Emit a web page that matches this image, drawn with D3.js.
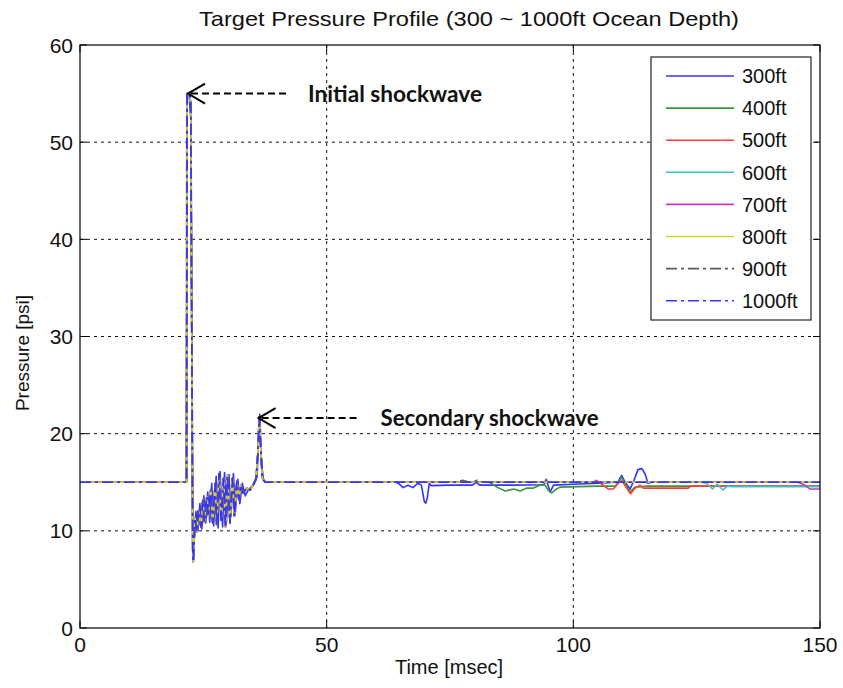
<!DOCTYPE html>
<html><head><meta charset="utf-8">
<script src="https://cdn.jsdelivr.net/npm/d3@7"></script>
<style>body{margin:0;background:#fff}svg{display:block}</style>
</head><body>
<svg id="chart" width="843" height="688"></svg>
<script>
// ---- data ----
const seriesNames = ["300ft","400ft","500ft","600ft","700ft","800ft","900ft","1000ft"];
const xTicks = [0, 50, 100, 150];
const yTicks = [0, 10, 20, 30, 40, 50, 60];

// common shock profile (depths nearly identical up to ~37 ms)
const tEarly = [0, 21.6, 21.7, 22.2, 22.45, 22.85, 22.97, 23.3, 23.7, 24.0, 24.5, 24.9, 25.2, 25.7, 26.0, 26.5, 26.9, 27.4, 27.7, 28.2, 28.6, 29.1, 29.5, 29.9, 30.4, 30.9, 31.3, 31.8, 32.2, 32.6, 33.1, 33.8, 34.5, 35.1, 35.7, 36.1, 36.3, 36.6, 36.95, 37.5];
const pEarly = [15, 15, 55, 55, 54.0, 8.0, 6.8, 11.3, 9.9, 12.1, 10.4, 13.2, 10.9, 13.5, 11.5, 14.2, 10.8, 14.9, 10.6, 15.9, 11.1, 15.4, 10.4, 15.7, 10.8, 15.4, 11.5, 15.1, 13.2, 14.7, 13.9, 14.4, 14.2, 14.7, 15.4, 18.3, 21.7, 19.0, 15.4, 15.05];
// slightly phase-shifted variant seen for the shallowest depth
const tEarlyB = [0, 21.55, 21.65, 22.1, 22.5, 22.9, 23.1, 23.5, 23.9, 24.3, 24.7, 25.1, 25.5, 25.9, 26.3, 26.7, 27.1, 27.6, 28.0, 28.4, 28.9, 29.3, 29.7, 30.2, 30.6, 31.1, 31.5, 32.0, 32.4, 32.9, 33.5, 34.2, 34.9, 35.5, 35.9, 36.2, 36.45, 36.8, 37.2, 37.5];
const pEarlyB = [15, 15, 55, 55, 52, 7.2, 8.5, 12.0, 10.0, 12.8, 10.2, 13.6, 10.8, 14.0, 10.9, 14.9, 10.5, 15.6, 10.3, 16.1, 10.4, 16.0, 11.0, 15.8, 11.5, 15.9, 12.0, 15.3, 12.8, 14.9, 13.6, 14.3, 14.6, 15.0, 15.6, 19.5, 22.0, 17.0, 15.2, 15.0];

// late-time behaviour per depth
const t300 = [37.6, 64.0, 64.5, 65.5, 66.5, 67.5, 68.5, 69.2, 69.8, 70.1, 70.4, 70.8, 71.2, 75, 79.5, 80.3, 81, 88, 94.0, 94.5, 95.3, 96.0, 100, 105, 109.0, 109.8, 110.5, 111.5, 112.3, 113.1, 113.9, 114.6, 115.1, 116, 150];
const p300 = [15, 15, 14.9, 14.45, 14.7, 14.45, 14.9, 14.7, 13.0, 12.85, 13.4, 14.9, 14.65, 14.7, 14.7, 15.0, 14.7, 14.7, 14.75, 15.3, 14.0, 14.7, 14.8, 14.9, 15.0, 15.7, 15.0, 14.3, 15.2, 16.3, 16.4, 15.8, 14.9, 15.0, 15.0];
const t400 = [37.6, 83.0, 84.5, 86.2, 87.9, 89.2, 90.6, 91.9, 93.2, 94.2, 94.9, 95.6, 96.3, 97.3, 105, 108.5, 109.8, 110.6, 111.5, 112.5, 115, 150];
const p400 = [15, 15, 14.5, 14.1, 14.3, 14.1, 14.4, 14.4, 14.7, 14.75, 14.2, 13.9, 14.2, 14.5, 14.6, 14.6, 15.5, 14.8, 14.0, 14.5, 14.6, 14.6];
const t500 = [37.6, 104.0, 104.7, 106.0, 107.1, 108.1, 109.1, 109.8, 110.8, 111.6, 112.5, 113.5, 114.2, 114.9, 123.3, 123.8, 150];
const p500 = [15, 15, 15.2, 14.7, 14.3, 14.3, 14.9, 15.2, 14.4, 13.8, 14.4, 14.7, 14.4, 14.4, 14.4, 14.6, 14.6];
const t600 = [37.6, 126.0, 127.0, 128.2, 129.2, 130.3, 131.2, 132.0, 150];
const p600 = [15, 15, 14.9, 14.3, 14.8, 14.2, 14.6, 14.55, 14.55];
const t700 = [37.6, 145.5, 146.6, 148.0, 150];
const p700 = [15, 15, 14.8, 14.3, 14.3];
const t800 = [37.6, 150];
const p800 = [15, 15];
const t900 = [37.6, 76, 77.5, 79, 80.5, 82, 150];
const p900 = [15, 15, 15.2, 15.0, 15.2, 15, 15];
const t1000 = [37.6, 150];
const p1000 = [15, 15];

const earlyT = [tEarlyB, tEarly, tEarly, tEarly, tEarly, tEarly, tEarly, tEarly];
const earlyP = [pEarlyB, pEarly, pEarly, pEarly, pEarly, pEarly, pEarly, pEarly];
const lateT = [t300, t400, t500, t600, t700, t800, t900, t1000];
const lateP = [p300, p400, p500, p600, p700, p800, p900, p1000];

// ---- styles ----
const colors = ["#3434ff", "#3a963a", "#ff3c3c", "#3cc4c4", "#c43cc4", "#d2d22c", "#5a5a5a", "#3434ff"];
const dashes = [null, null, null, null, null, null, "11,4,3,4", "11,4,3,4"];

const svg = d3.select("#chart");
const L = 80, R = 820, T = 45, B = 628;
const x = d3.scaleLinear().domain([0, 150]).range([L, R]);
const y = d3.scaleLinear().domain([0, 60]).range([B, T]);

const font = "'Liberation Sans', Arial, sans-serif";

// grid
const grid = svg.append("g");
grid.selectAll(".gx").data([50, 100]).enter().append("line")
  .attr("x1", d => x(d)).attr("x2", d => x(d)).attr("y1", T).attr("y2", B)
  .attr("stroke", "#111").attr("stroke-width", 1).attr("stroke-dasharray", "3,4");
grid.selectAll(".gy").data([10, 20, 30, 40, 50]).enter().append("line")
  .attr("y1", d => y(d)).attr("y2", d => y(d)).attr("x1", L).attr("x2", R)
  .attr("stroke", "#111").attr("stroke-width", 1).attr("stroke-dasharray", "3,4");

// clip
svg.append("clipPath").attr("id", "clip").append("rect")
  .attr("x", L).attr("y", T).attr("width", R - L).attr("height", B - T);

const line = d3.line().x(d => x(d[0])).y(d => y(d[1]));
const plot = svg.append("g").attr("clip-path", "url(#clip)");
seriesNames.forEach((name, i) => {
  const pts = earlyT[i].map((t, k) => [t, earlyP[i][k]])
    .concat(lateT[i].map((t, k) => [t, lateP[i][k]]));
  plot.append("path").datum(pts)
    .attr("d", line).attr("fill", "none")
    .attr("stroke", colors[i]).attr("stroke-width", 1.6)
    .attr("stroke-linejoin", "round")
    .attr("stroke-dasharray", dashes[i]);
});

// axes (box with inward ticks)
const axG = svg.append("g").attr("font-family", font);
axG.append("rect").attr("x", L).attr("y", T).attr("width", R - L).attr("height", B - T)
  .attr("fill", "none").attr("stroke", "#000").attr("stroke-width", 1.2);
const tl = 7;
xTicks.forEach(v => {
  axG.append("line").attr("x1", x(v)).attr("x2", x(v)).attr("y1", B).attr("y2", B - tl).attr("stroke", "#000");
  axG.append("line").attr("x1", x(v)).attr("x2", x(v)).attr("y1", T).attr("y2", T + tl).attr("stroke", "#000");
  axG.append("text").attr("x", x(v)).attr("y", B + 24).attr("text-anchor", "middle")
    .attr("font-size", 21).attr("fill", "#111").text(v);
});
yTicks.forEach(v => {
  axG.append("line").attr("y1", y(v)).attr("y2", y(v)).attr("x1", L).attr("x2", L + tl).attr("stroke", "#000");
  axG.append("line").attr("y1", y(v)).attr("y2", y(v)).attr("x1", R).attr("x2", R - tl).attr("stroke", "#000");
  axG.append("text").attr("x", L - 7).attr("y", y(v)).attr("dy", "0.36em").attr("text-anchor", "end")
    .attr("font-size", 21).attr("fill", "#111").text(v);
});

// titles
svg.append("text").attr("x", 469).attr("y", 26).attr("text-anchor", "middle")
  .attr("font-family", font).attr("font-size", 21).attr("fill", "#111")
  .attr("textLength", 540).attr("lengthAdjust", "spacingAndGlyphs")
  .text("Target Pressure Profile (300 ~ 1000ft Ocean Depth)");
svg.append("text").attr("x", 449).attr("y", 674).attr("text-anchor", "middle")
  .attr("font-family", font).attr("font-size", 20).attr("fill", "#111")
  .text("Time [msec]");
svg.append("text").attr("transform", `translate(29,353) rotate(-90)`)
  .attr("text-anchor", "middle")
  .attr("font-family", font).attr("font-size", 19).attr("fill", "#111")
  .text("Pressure [psi]");

// legend
const lg = svg.append("g");
lg.append("rect").attr("x", 651).attr("y", 57).attr("width", 160).attr("height", 263)
  .attr("fill", "#fff").attr("stroke", "#222").attr("stroke-width", 1.2);
seriesNames.forEach((name, i) => {
  const yy = 76 + i * 32.1;
  lg.append("line").attr("x1", 666).attr("x2", 734).attr("y1", yy).attr("y2", yy)
    .attr("stroke", colors[i]).attr("stroke-width", 1.6).attr("stroke-dasharray", dashes[i]);
  lg.append("text").attr("x", 742).attr("y", yy).attr("dy", "0.36em")
    .attr("font-family", font).attr("font-size", 20).attr("fill", "#111").text(name);
});

// annotations
function annot(tx, ty, label, textX, w) {
  const px = x(tx), py = y(ty);
  svg.append("line").attr("x1", px + 3).attr("x2", px + 101).attr("y1", py).attr("y2", py)
    .attr("stroke", "#000").attr("stroke-width", 2).attr("stroke-dasharray", "7,4");
  svg.append("polyline").attr("points", `${px + 17},${py - 10} ${px},${py} ${px + 17},${py + 10}`)
    .attr("fill", "none").attr("stroke", "#000").attr("stroke-width", 2);
  svg.append("text").attr("x", px + textX).attr("y", py + 8)
    .attr("font-family", "Lato, 'Open Sans', sans-serif").attr("font-weight", "bold")
    .attr("font-size", 22).attr("fill", "#111")
    .attr("textLength", w).attr("lengthAdjust", "spacingAndGlyphs").text(label);
}
annot(21.9, 55.0, "Initial shockwave", 120, 174);
annot(36.2, 21.6, "Secondary shockwave", 122, 218);
</script>
</body></html>
